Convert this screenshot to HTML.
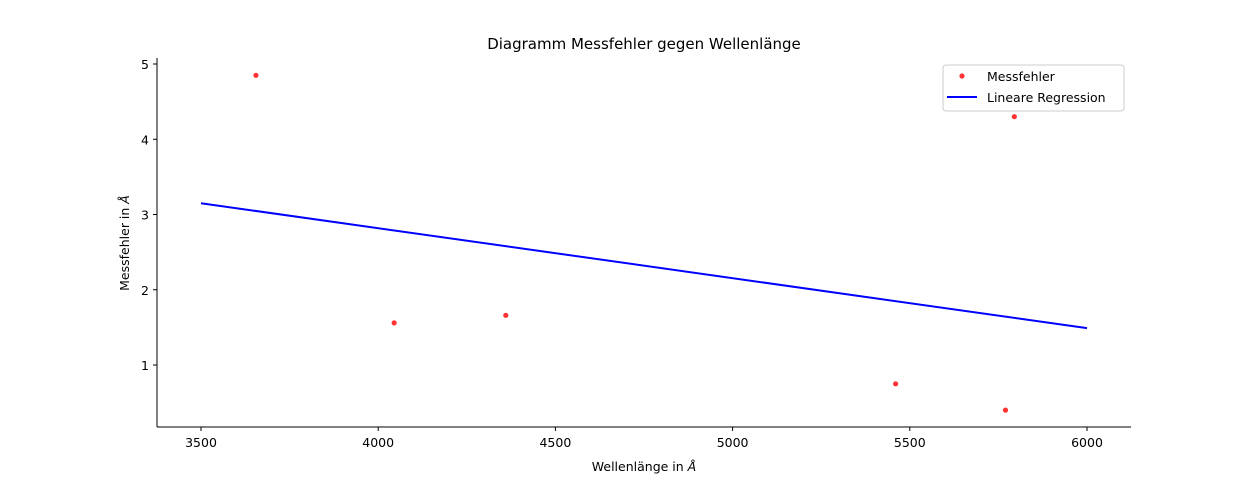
<!DOCTYPE html>
<html><head><meta charset="utf-8"><style>
body{margin:0;background:#fff;font-family:"Liberation Sans","DejaVu Sans",sans-serif}
</style></head><body>
<svg width="1257" height="480" xmlns="http://www.w3.org/2000/svg" font-family="DejaVu Sans, Liberation Sans, sans-serif">
<rect width="1257" height="480" fill="#fff"/>
<text x="644" y="49" font-size="15" text-anchor="middle">Diagramm Messfehler gegen Wellenlänge</text>
<g id="axes"></g>
<g id="marks"></g>
<text x="644" y="471" font-size="12.5" text-anchor="middle">Wellenlänge in <tspan font-style="italic">Å</tspan></text>
<text transform="translate(129,243) rotate(-90)" font-size="12.5" text-anchor="middle">Messfehler in <tspan font-style="italic">Å</tspan></text>
<g>
<rect x="943" y="65" width="181" height="46" rx="3" fill="#fff" stroke="#ccc"/>
<circle cx="962" cy="76" r="2.6" fill="#ff3333"/>
<text x="987" y="81" font-size="12.5">Messfehler</text>
<line x1="947" y1="97" x2="977" y2="97" stroke="#0000ff" stroke-width="2"/>
<text x="987" y="102" font-size="12.5">Lineare Regression</text>
</g>
</svg>
<script>
const pointX=[3655,4045,4360,5460,5770,5795];
const pointY=[4.85,1.56,1.66,0.75,0.40,4.30];
const lineX=[3500,6000];
const lineY=[3.15,1.49];
const xTicks=[3500,4000,4500,5000,5500,6000];
const yTicks=[1,2,3,4,5];
const sx=v=>201+(v-3500)*(1087-201)/2500;
const sy=v=>365-(v-1)*(365-64)/4;
const NS="http://www.w3.org/2000/svg";
const ax=document.getElementById('axes'),mk=document.getElementById('marks');
function el(t,a,p){const e=document.createElementNS(NS,t);for(const k in a)e.setAttribute(k,a[k]);p.appendChild(e);return e;}
let s=el('line',{x1:157,y1:58,x2:157,y2:427,stroke:'#000','stroke-width':1},ax);


s=el('line',{x1:157,y1:427,x2:1131,y2:427,stroke:'#000','stroke-width':1},ax);


xTicks.forEach(v=>{const x=sx(v);
el('line',{x1:x,y1:427,x2:x,y2:431,stroke:'#000'},ax);
const t=el('text',{x:x,y:447,'font-size':12.5,'text-anchor':'middle'},ax);t.textContent=v;

});
yTicks.forEach(v=>{const y=sy(v);
el('line',{x1:153,y1:y,x2:157,y2:y,stroke:'#000'},ax);
const t=el('text',{x:149,y:y+5,'font-size':12.5,'text-anchor':'end'},ax);t.textContent=v;

});
const l=el('polyline',{points:lineX.map((x,i)=>sx(x)+','+sy(lineY[i])).join(' '),fill:'none',stroke:'#0000ff','stroke-width':2},mk);


pointX.forEach((x,i)=>{const c=el('circle',{cx:sx(x),cy:sy(pointY[i]),r:2.6,fill:'#ff3333'},mk);

});
</script>
</body></html>
